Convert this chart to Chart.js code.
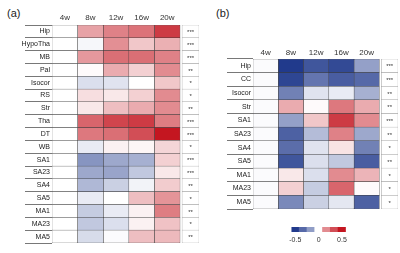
<!DOCTYPE html>
<html>
<head>
<meta charset="utf-8">
<script src="https://cdn.jsdelivr.net/npm/chart.js@4.4.1/dist/chart.umd.min.js"></script>
<style>
  body { margin: 0; background: #fff; }
  #wrap { position: relative; width: 400px; height: 253px; overflow: hidden; }
  canvas { position: absolute; }
  .tag { position: absolute; font-family: "Liberation Sans", Arial, sans-serif; font-size: 11px; color: #222; }
</style>
</head>
<body>
<div id="wrap">
  <div class="tag" style="left:7px;top:7px;">(a)</div>
  <div class="tag" style="left:216px;top:7px;">(b)</div>
  <canvas id="chartA" width="200" height="253" style="left:0;top:0;"></canvas>
  <canvas id="chartB" width="200" height="253" style="left:200px;top:0;"></canvas>
  <canvas id="chartBar" width="66" height="29" style="left:285px;top:224px;"></canvas>
</div>
<script>
// column headers (weeks)
const weeks = ['4w', '8w', '12w', '16w', '20w'];

// panel (a)
const aRows = ['Hip', 'HypoTha', 'MB', 'Pal', 'Isocor', 'RS', 'Str', 'Tha', 'DT', 'WB', 'SA1', 'SA23', 'SA4', 'SA5', 'MA1', 'MA23', 'MA5'];
const a4w  = [0, 0, 0, 0, 0, 0, 0, 0, 0, 0, 0, 0, 0, 0, 0, 0, 0];
const a8w  = [0.2, -0.02, 0.22, 0.01, -0.08, 0.07, 0.05, 0.33, 0.29, -0.05, -0.27, -0.22, -0.18, -0.05, -0.13, -0.14, -0.09];
const a12w = [0.27, 0.24, 0.31, 0.18, -0.07, 0.05, 0.14, 0.4, 0.31, 0.03, -0.22, -0.23, -0.12, 0.0, -0.05, -0.08, -0.01];
const a16w = [0.3, 0.12, 0.31, 0.1, 0.0, 0.1, 0.18, 0.42, 0.38, 0.02, -0.2, -0.14, -0.03, 0.14, 0.03, 0.03, 0.14];
const a20w = [0.42, 0.17, 0.27, 0.25, 0.12, 0.25, 0.25, 0.28, 0.5, 0.09, 0.1, 0.05, 0.11, 0.23, 0.28, 0.13, 0.15];
const aStars = ['***', '***', '***', '**', '*', '*', '**', '***', '***', '*', '***', '***', '**', '*', '**', '*', '**'];

// panel (b)
const bRows = ['Hip', 'CC', 'Isocor', 'Str', 'SA1', 'SA23', 'SA4', 'SA5', 'MA1', 'MA23', 'MA5'];
const b4w  = [-0.01, -0.01, -0.01, -0.01, -0.01, -0.01, -0.01, -0.01, -0.01, -0.01, -0.01];
const b8w  = [-0.5, -0.47, -0.32, 0.18, -0.24, -0.4, -0.37, -0.43, 0.05, 0.1, -0.3];
const b12w = [-0.43, -0.35, -0.07, 0.01, 0.12, -0.17, -0.07, -0.08, -0.08, -0.13, -0.12];
const b16w = [-0.46, -0.41, -0.05, 0.29, 0.42, 0.27, 0.06, -0.14, 0.25, 0.33, -0.06];
const b20w = [-0.24, -0.38, -0.2, 0.18, 0.25, -0.22, -0.32, -0.41, 0.16, 0.01, -0.4];
const bStars = ['***', '***', '**', '**', '***', '**', '*', '**', '*', '*', '*'];

// colour bar
const barSteps  = [-0.5, -0.38, -0.25, 0, 0.25, 0.38, 0.5];
const barLabels = ['-0.5', '', '', '0', '', '', '0.5'];

const FONT = '"Liberation Sans", Arial, sans-serif';

// blue - white - red
function cellColor(v) {
    const t = Math.min(Math.abs(v) / 0.5, 1);
    const end = v < 0 ? [33, 58, 140] : [196, 22, 32];
    const c = end.map(e => Math.round(255 + (e - 255) * t));
    return 'rgb(' + c.join(',') + ')';
}

const GAP = 0.08;
const STAR_W = 0.66;

const starPlugin = {
    id: 'stars',
    afterDatasetsDraw(chart, args, opts) {
        const meta = chart.getDatasetMeta(chart.data.datasets.length - 1);
        const ctx = chart.ctx;
        ctx.save();
        ctx.fillStyle = '#333';
        ctx.font = '6px ' + FONT;
        ctx.textAlign = 'center';
        ctx.textBaseline = 'middle';
        meta.data.forEach((el, i) => {
            ctx.fillText(opts.labels[i], (el.x + el.base) / 2, el.y + 1);
        });
        ctx.restore();
    }
};

function makeHeatmap(id, rows, columns, stars, cfg) {
    const datasets = columns.map((vals, i) => ({
        label: weeks[i],
        data: rows.map(() => 1),
        backgroundColor: vals.map(cellColor),
        borderColor: '#3a3a3a',
        borderWidth: 0.5,
        borderSkipped: false
    }));
    datasets.push({ label: 'gap', data: rows.map(() => GAP), backgroundColor: 'rgba(0,0,0,0)', borderWidth: 0 });
    datasets.push({ label: 'sig', data: rows.map(() => STAR_W), backgroundColor: '#fff', borderColor: '#999', borderWidth: 0.5, borderSkipped: false });

    return new Chart(document.getElementById(id), {
        type: 'bar',
        data: { labels: rows, datasets: datasets },
        options: {
            indexAxis: 'y',
            responsive: false,
            animation: false,
            categoryPercentage: 1,
            barPercentage: 1,
            layout: { padding: cfg.padding },
            plugins: { legend: { display: false }, tooltip: { enabled: false }, stars: { labels: stars } },
            scales: {
                x: {
                    stacked: true,
                    position: 'top',
                    min: 0,
                    max: 5 + GAP + STAR_W,
                    afterBuildTicks(scale) {
                        scale.ticks = weeks.map((w, i) => ({ value: i + 0.5 }));
                    },
                    afterFit(scale) { scale.height = cfg.top; },
                    ticks: {
                        autoSkip: false,
                        maxRotation: 0,
                        padding: cfg.headPad,
                        color: '#333',
                        font: { family: FONT, size: 8 },
                        callback: (v, i) => weeks[i]
                    },
                    grid: { display: false, drawTicks: false },
                    border: { display: false }
                },
                y: {
                    stacked: true,
                    afterFit(scale) { scale.width = cfg.left; },
                    ticks: {
                        padding: -(cfg.tick - 2),
                        color: '#222',
                        font: { family: FONT, size: 7 }
                    },
                    grid: { drawOnChartArea: false, drawTicks: true, tickLength: cfg.tick, color: '#555', lineWidth: 0.8 },
                    border: { display: false }
                }
            }
        },
        plugins: [starPlugin]
    });
}

makeHeatmap('chartA', aRows, [a4w, a8w, a12w, a16w, a20w], aStars,
    { padding: { left: 0, right: 1, top: 0, bottom: 10 }, top: 25, left: 52, tick: 27, headPad: 2 });

makeHeatmap('chartB', bRows, [b4w, b8w, b12w, b16w, b20w], bStars,
    { padding: { left: 0, right: 2, top: 0, bottom: 44 }, top: 59, left: 53, tick: 26, headPad: 1 });

// colour bar legend
new Chart(document.getElementById('chartBar'), {
    type: 'bar',
    data: {
        labels: barLabels,
        datasets: [{
            data: barSteps.map(() => 1),
            backgroundColor: barSteps.map(cellColor),
            borderWidth: 0
        }]
    },
    options: {
        responsive: false,
        animation: false,
        categoryPercentage: 1,
        barPercentage: 1,
        layout: { padding: { left: 4, right: 5, top: 3, bottom: 0 } },
        plugins: { legend: { display: false }, tooltip: { enabled: false } },
        scales: {
            x: {
                afterFit(scale) { scale.height = 21; },
                ticks: { autoSkip: false, maxRotation: 0, padding: 4, color: '#333', font: { family: FONT, size: 7 } },
                grid: { display: false, drawTicks: false },
                border: { display: false }
            },
            y: { display: false, min: 0, max: 1 }
        }
    }
});
</script>
</body>
</html>
